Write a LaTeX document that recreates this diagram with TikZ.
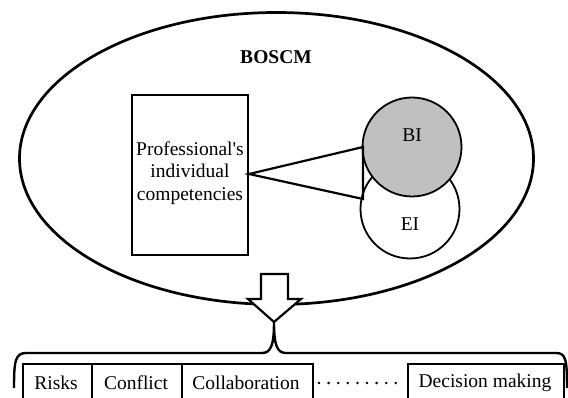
\documentclass[tikz,border=0pt]{standalone}
\usepackage{fontspec}
\setmainfont{Liberation Serif}[Ligatures=TeXOff]
\usetikzlibrary{calc}
\definecolor{bigray}{HTML}{C0C0C0}
\tikzset{
  txt/.style={font=\fontsize{19.5}{22.5}\selectfont, inner sep=0pt},
  circ/.style={circle, draw, line width=1.8pt, minimum size=99pt, inner sep=0pt},
  pbox/.style={draw, line width=2.8pt, minimum width=116pt, minimum height=160pt, inner sep=0pt},
  cell/.style={draw, line width=2.4pt, minimum height=50pt, inner sep=0pt, anchor=north west},
  thin/.style={line width=2.2pt},
}
\begin{document}
\begin{tikzpicture}[x=1pt,y=-1pt]
\useasboundingbox (0,0) rectangle (568,398);
\clip (0,0) rectangle (568,398);
% outer ellipse
\draw[line width=2.7pt] (276.5,158.5) ellipse [x radius=257, y radius=146];
\node[txt, font=\fontsize{19.5}{22.5}\selectfont\bfseries] (title) at (276,57) {BOSCM};
% professional box
\node[pbox] (box) at (190,175) {};
\node[txt, align=center] (boxtxt) at (190,173) {Professional's\\individual\\competencies};
% circles
\node[circ, fill=white] (ei) at (410,209) {};
\node[circ, fill=bigray] (bi) at (412,147) {};
\node[txt] (bil) at (412,135) {BI};
\node[txt] (eil) at (410,224) {EI};
% triangle
\coordinate (apex) at (249,174);
\coordinate (t1) at (363,147);
\coordinate (t2) at (363,199);
\draw[thin, line join=miter] (t1) -- (apex) -- (t2) -- cycle;
% block arrow
\draw[thin, fill=white, line join=miter] (261,274) -- (288,274) -- (288,299) -- (301,299) -- (274,322) coordinate (tip) -- (248,299) -- (261,299) -- cycle;
% brace
\draw[line width=2.4pt] (14,388) .. controls (14,362) and (15,353) .. (26,353) -- (262,353)
  .. controls (271,353) and (274,345) .. (tip)
  .. controls (274,345) and (277,353) .. (286,353) -- (556,353)
  .. controls (566,353) and (567,360) .. (567,388);
% bottom cells
\node[cell, minimum width=69pt] (risks) at (22,363) {};
\node[cell, minimum width=90pt] (conflict) at (91,363) {};
\node[cell, minimum width=131pt] (collab) at (181,363) {};
\node[cell, minimum width=156pt] (decision) at (407,363) {};
\node[txt] at (56,383) {Risks};
\node[txt] at (136,383) {Conflict};
\node[txt] at (246,383) {Collaboration};
\node[txt] at (485,383) {Decision making};
\coordinate (d1) at (319,383);
\coordinate (d2) at (396,383);
\draw[line width=2.8pt, line cap=round, dash pattern=on 0pt off 9.6pt] (d1) -- (d2);
\end{tikzpicture}
\end{document}
